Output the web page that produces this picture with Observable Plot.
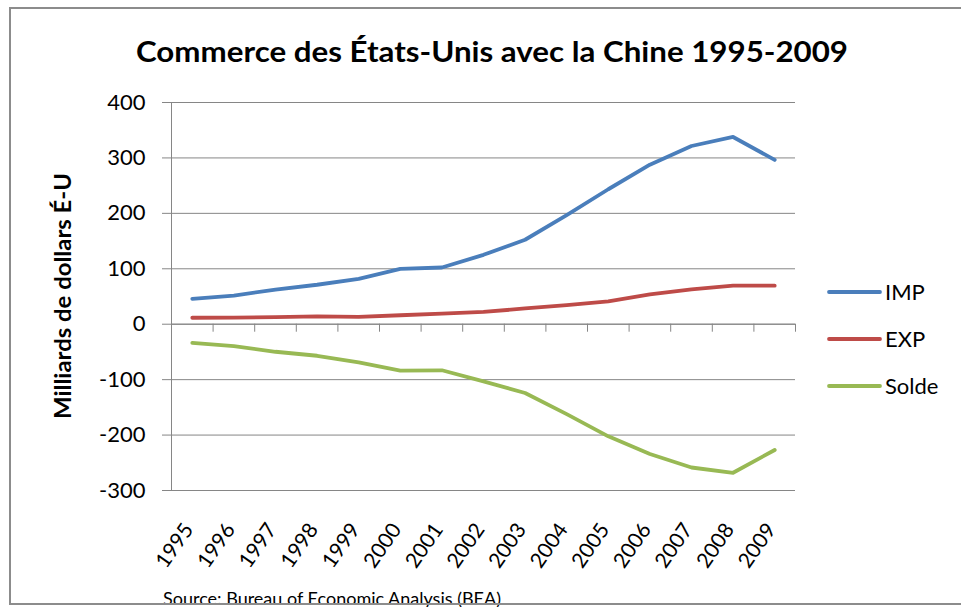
<!DOCTYPE html>
<html><head><meta charset="utf-8">
<script src="https://cdn.jsdelivr.net/npm/d3@7"></script>
<script src="https://cdn.jsdelivr.net/npm/@observablehq/plot@0.6"></script>
<style>
body{margin:0;background:#fff;}
#wrap{position:relative;width:961px;height:607px;overflow:hidden;font-family:Lato,"Open Sans",sans-serif;color:#000;}
#frame{position:absolute;left:9px;top:7px;width:1000px;height:598px;border:2px solid #8c8c8c;box-sizing:border-box;pointer-events:none;}
#chart{position:absolute;left:0;top:0;}
</style>
</head><body>
<div id="wrap"><div id="chart"></div><div id="frame"></div></div>
<script>
const years = [1995,1996,1997,1998,1999,2000,2001,2002,2003,2004,2005,2006,2007,2008,2009];
const imp   = [45.6,51.5,62.6,71.2,81.8,100.0,102.3,125.2,152.4,196.7,243.5,287.8,321.5,337.8,296.4];
const exp   = [11.7,12.0,12.8,14.2,13.1,16.2,19.2,22.1,28.4,34.4,41.2,53.7,62.9,69.7,69.5];
const solde = [-33.8,-39.5,-49.7,-56.9,-68.7,-83.8,-83.1,-103.1,-124.1,-162.3,-202.3,-234.1,-258.5,-268.0,-226.9];
const yTicks = [-300,-200,-100,0,100,200,300,400];
const seriesNames = ["IMP","EXP","Solde"];
const seriesColors = ["#4a7ebb","#be4b48","#98b954"];
const title = "Commerce des États-Unis avec la Chine 1995-2009";
const yLabel = "Milliards de dollars É-U";
const source = "Source: Bureau of Economic Analysis (BEA)";

const seriesValues = [imp, exp, solde];
const rows = [];
seriesNames.forEach((s, k) => years.forEach((yr, i) => rows.push({series: s, year: yr, value: seriesValues[k][i]})));
const boundaries = d3.range(years.length + 1).map(i => years[0] - 0.5 + i);
const grid = "#868686";

const plot = Plot.plot({
  width: 961, height: 607,
  marginLeft: 171, marginRight: 166, marginTop: 102, marginBottom: 117,
  style: {fontFamily: "Lato, 'Open Sans', sans-serif", color: "#000", background: "transparent"},
  x: {type: "linear", domain: [years[0] - 0.5, years[years.length - 1] + 0.5], axis: null},
  y: {domain: [-300, 400], axis: null, label: null},
  color: {domain: seriesNames, range: seriesColors},
  marks: [
    Plot.gridY(yTicks, {stroke: grid, strokeOpacity: 1, strokeWidth: 1}),
    Plot.ruleX([boundaries[0]], {stroke: grid, strokeWidth: 1}),
    Plot.ruleY([0], {stroke: grid, strokeWidth: 1}),
    Plot.ruleX(boundaries.slice(1), {x: d => d, y1: 0, y2: 0, insetTop: 0, insetBottom: -8, stroke: grid}),
    Plot.axisY(yTicks, {tickSize: 9, tickPadding: 17, fontSize: 22, stroke: grid, fill: "#000", label: null, tickFormat: d => String(d)}),
    Plot.text(years, {x: d => d, frameAnchor: "bottom", text: d => String(d), rotate: -55, textAnchor: "end", dy: 39, dx: 2, fontSize: 21, fill: "#000"}),
    Plot.line(rows, {x: "year", y: "value", z: "series", stroke: "series", strokeWidth: 3.8, strokeLinejoin: "round", strokeLinecap: "round"})
  ]
});
document.getElementById("chart").appendChild(plot);

const svg = d3.select(plot);
svg.append("text").attr("x", 492).attr("y", 62).attr("text-anchor", "middle")
  .attr("font-size", 29).attr("font-weight", "bold").attr("textLength", 712).attr("lengthAdjust", "spacingAndGlyphs")
  .attr("font-family", "Lato, sans-serif").attr("fill", "#000").text(title);
svg.append("text").attr("transform", "translate(71,296) rotate(-90)").attr("text-anchor", "middle")
  .attr("font-size", 22).attr("font-weight", "bold").attr("textLength", 246).attr("lengthAdjust", "spacingAndGlyphs")
  .attr("font-family", "Lato, sans-serif").attr("fill", "#000").text(yLabel);
svg.append("text").attr("x", 163).attr("y", 605).attr("text-anchor", "start").attr("font-size", 18)
  .attr("font-family", "Lato, sans-serif").attr("fill", "#000").text(source);

const leg = svg.append("g");
seriesNames.forEach((s, k) => {
  const y = 292 + k * 47;
  leg.append("line").attr("x1", 829).attr("x2", 880).attr("y1", y).attr("y2", y)
    .attr("stroke", seriesColors[k]).attr("stroke-width", 3.8).attr("stroke-linecap", "round");
  leg.append("text").attr("x", 885).attr("y", y + 8).attr("text-anchor", "start").attr("font-size", 22)
    .attr("font-family", "Lato, sans-serif").attr("fill", "#000").text(s);
});
</script>
</body></html>
